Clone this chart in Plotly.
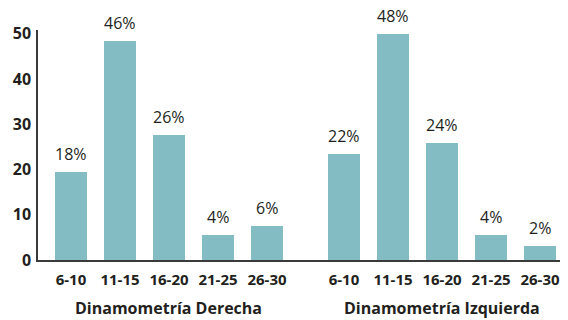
import plotly.graph_objects as go

categories = ["6-10", "11-15", "16-20", "21-25", "26-30"]
groups = ["Dinamometría Derecha", "Dinamometría Izquierda"]
derecha = [19.5, 48.3, 27.7, 5.5, 7.5]
izquierda = [23.5, 50.0, 25.8, 5.5, 3.0]
derecha_pct = ["18%", "46%", "26%", "4%", "6%"]
izquierda_pct = ["22%", "48%", "24%", "4%", "2%"]
y_ticks = [0, 10, 20, 30, 40, 50]

GAP = 5.571  # offset of second group
BAR_COLOR = "#84BCC4"
TEXT_COLOR = "#231F20"
FONT = "Open Sans"

x1 = [i for i in range(len(categories))]
x2 = [i + GAP for i in range(len(categories))]

fig = go.Figure()
for xs, vals in [(x1, derecha), (x2, izquierda)]:
    fig.add_trace(go.Bar(x=xs, y=vals, width=0.653, marker=dict(color=BAR_COLOR, line=dict(width=0)),
                         showlegend=False, hoverinfo="skip"))

annotations = []
for xs, vals, pcts in [(x1, derecha, derecha_pct), (x2, izquierda, izquierda_pct)]:
    for x, v, p in zip(xs, vals, pcts):
        annotations.append(dict(x=x, y=v, xref="x", yref="y", text=p, showarrow=False,
                                yanchor="bottom", yshift=5,
                                font=dict(family=FONT, size=16, color=TEXT_COLOR)))
for xs, g in [(x1, groups[0]), (x2, groups[1])]:
    annotations.append(dict(x=(xs[0] + xs[-1]) / 2, y=0, xref="x", yref="paper", text=g,
                            showarrow=False, yanchor="middle", yshift=-48,
                            font=dict(family=FONT, size=16, color=TEXT_COLOR, weight="bold")))

fig.update_layout(
    width=568, height=320,
    margin=dict(l=38, r=8, t=30, b=60),
    paper_bgcolor="white", plot_bgcolor="white",
    bargap=0,
    annotations=annotations,
    xaxis=dict(range=[-0.673, 9.98], tickvals=x1 + x2, ticktext=categories + categories,
               showgrid=False, zeroline=False, showline=True, linecolor="#3a3a3a", linewidth=1.5,
               ticks="", ticklabelstandoff=5,
               tickfont=dict(family=FONT, size=15, color=TEXT_COLOR, weight="bold")),
    yaxis=dict(range=[0, 50.8], tickvals=y_ticks, showgrid=False, zeroline=False,
               showline=True, linecolor="#3a3a3a", linewidth=1.5, ticks="", ticklabelstandoff=2,
               tickfont=dict(family=FONT, size=16, color=TEXT_COLOR, weight="bold")),
)

fig.write_html("out.html")
